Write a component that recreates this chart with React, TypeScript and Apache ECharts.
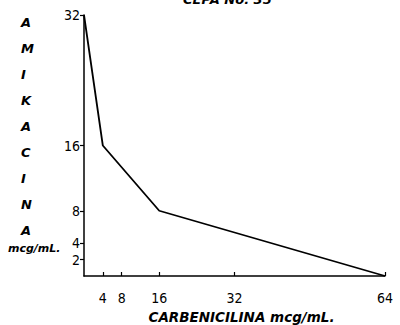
import React, { useEffect, useRef } from "react";
import * as echarts from "echarts";

const carbenicilina = [0, 4, 16, 64];
const amikacina = [32, 16, 8, 0];
const xTicks = [4, 8, 16, 32, 64];
const yTicks = [2, 4, 8, 16, 32];
const yLetters = ["A", "M", "I", "K", "A", "C", "I", "N", "A"];
const titleText = "CEPA No. 35";
const xName = "CARBENICILINA mcg/mL.";
const yUnit = "mcg/mL.";

export default function App() {
  const ref = useRef<HTMLDivElement>(null);
  useEffect(() => {
    if (!ref.current) return;
    const chart = echarts.init(ref.current, null, { renderer: "svg" });
    const tickFont = "'Liberation Sans Narrow', 'DejaVu Sans Condensed', sans-serif";
    const boldFont = "'DejaVu Sans', 'Liberation Sans', sans-serif";
    const letterGraphics = yLetters.map((l, i) => ({
      type: "text",
      left: 21,
      top: 16 + i * 26,
      style: {
        text: l,
        font: `italic bold 13px ${boldFont}`,
        fill: "#000",
      },
    }));
    chart.setOption({
      animation: false,
      backgroundColor: "#fff",
      grid: { left: 84, right: 15, top: 15, bottom: 49, outerBoundsMode: "none", containLabel: false },
      xAxis: {
        type: "value",
        min: 0,
        max: 64,
        name: xName,
        nameLocation: "middle",
        nameGap: 30,
        nameTextStyle: {
          fontFamily: boldFont,
          fontStyle: "italic",
          fontWeight: "bold",
          fontSize: 13.5,
          color: "#000",
          padding: [0, 0, 0, 14],
        },
        axisLine: { lineStyle: { color: "#000", width: 1.5 } },
        axisTick: {
          show: true,
          inside: true,
          length: 4,
          customValues: xTicks,
          lineStyle: { color: "#000", width: 1.2 },
        },
        axisLabel: {
          customValues: xTicks,
          color: "#000",
          fontFamily: tickFont,
          fontSize: 14,
          margin: 15,
        },
        splitLine: { show: false },
      },
      yAxis: {
        type: "value",
        min: 0,
        max: 32,
        axisLine: { show: true, lineStyle: { color: "#000", width: 1.5 } },
        axisTick: {
          show: true,
          length: 4,
          customValues: yTicks,
          lineStyle: { color: "#000", width: 1.2 },
        },
        axisLabel: {
          customValues: yTicks,
          color: "#000",
          fontFamily: tickFont,
          fontSize: 14,
          margin: 4,
        },
        splitLine: { show: false },
      },
      graphic: [
        {
          type: "text",
          left: 183,
          top: -7,
          style: {
            text: titleText,
            font: `italic bold 13px ${boldFont}`,
            fill: "#000",
          },
        },
        ...letterGraphics,
        {
          type: "text",
          left: 8,
          top: 243,
          style: {
            text: yUnit,
            font: `italic bold 11px ${boldFont}`,
            fill: "#000",
          },
        },
      ],
      series: [
        {
          type: "line",
          data: carbenicilina.map((x, i) => [x, amikacina[i]]),
          symbol: "none",
          lineStyle: { color: "#000", width: 1.8 },
        },
      ],
    });
    return () => chart.dispose();
  }, []);
  return (
    <div
      ref={ref}
      style={{ position: "fixed", left: 0, top: 0, width: 400, height: 325 }}
    />
  );
}
